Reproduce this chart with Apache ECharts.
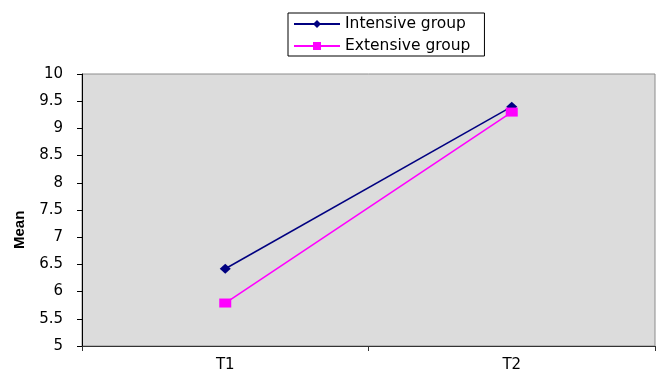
<!DOCTYPE html>
<html>
<head>
<meta charset="utf-8">
<script src="https://cdn.jsdelivr.net/npm/echarts@6/dist/echarts.min.js"></script>
<style>
  html, body { margin: 0; padding: 0; background: #ffffff; }
  #chart { width: 658px; height: 374px; }
</style>
</head>
<body>
<div id="chart"></div>
<script>
// Time points and group means
var categories = ['T1', 'T2'];
var intensive = [6.42, 9.4];
var extensive = [5.79, 9.3];
var yTicks = [5, 5.5, 6, 6.5, 7, 7.5, 8, 8.5, 9, 9.5, 10];

var chart = echarts.init(document.getElementById('chart'));
var font = 'DejaVu Sans, Arial, sans-serif';

chart.setOption({
  animation: false,
  backgroundColor: '#ffffff',
  grid: {
    left: 82, right: 3, top: 74, bottom: 28,
    show: true,
    backgroundColor: '#dcdcdc',
    borderColor: '#8c8c8c',
    borderWidth: 1
  },
  legend: {
    left: 288, top: 13,
    orient: 'vertical',
    itemGap: 6,
    itemWidth: 46,
    itemHeight: 10,
    padding: [3, 14, 2, 5],
    borderColor: '#000000',
    borderWidth: 1,
    backgroundColor: '#ffffff',
    textStyle: { fontFamily: font, fontSize: 15.5, color: '#000000' },
    data: ['Intensive group', 'Extensive group']
  },
  xAxis: {
    type: 'category',
    data: categories,
    boundaryGap: true,
    axisLine: { show: true, lineStyle: { color: '#333333', width: 1 } },
    axisTick: { show: true, length: 5, lineStyle: { color: '#333333' } },
    axisLabel: { fontFamily: font, fontSize: 15, color: '#000000', margin: 12 },
    splitLine: { show: false }
  },
  yAxis: {
    type: 'value',
    min: 5, max: 10, interval: 0.5,
    axisLine: { show: true, lineStyle: { color: '#000000', width: 1 } },
    axisTick: { show: true, length: 5, lineStyle: { color: '#000000' } },
    axisLabel: {
      fontFamily: font, fontSize: 15, color: '#000000', margin: 19,
      formatter: function (v) {
        var t = yTicks.find(function (k) { return Math.abs(k - v) < 1e-9; });
        return t === undefined ? '' : String(t);
      }
    },
    splitLine: { show: false }
  },
  graphic: [{
    type: 'text',
    x: 12, y: 249,
    rotation: Math.PI / 2,
    style: {
      text: 'Mean',
      fontFamily: 'Liberation Sans, Arial, sans-serif', fontSize: 15, fontWeight: 'bold',
      fill: '#000000'
    }
  }],
  series: [
    {
      name: 'Intensive group',
      type: 'line',
      data: intensive,
      symbol: 'diamond',
      symbolSize: [11, 10],
      itemStyle: { color: '#000080' },
      lineStyle: { color: '#000080', width: 1.5 },
      z: 3
    },
    {
      name: 'Extensive group',
      type: 'line',
      data: extensive,
      symbol: 'rect',
      symbolSize: [12, 9],
      itemStyle: { color: '#ff00ff' },
      lineStyle: { color: '#ff00ff', width: 1.5 },
      z: 4
    }
  ]
});
</script>
</body>
</html>
